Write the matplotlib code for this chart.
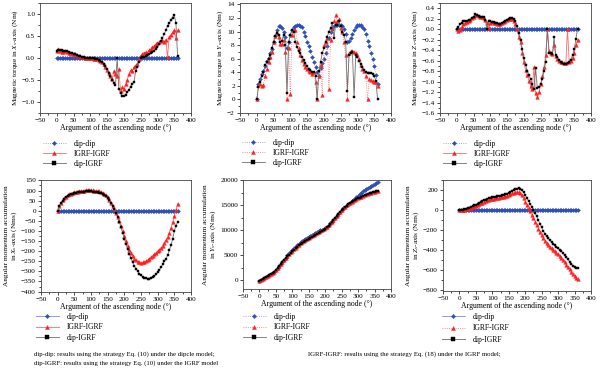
import numpy as np
import matplotlib
matplotlib.use("Agg")
import matplotlib.pyplot as plt
from matplotlib.ticker import MultipleLocator, AutoMinorLocator

plt.rcParams["font.family"] = ["Liberation Serif", "DejaVu Serif"]
plt.rcParams["mathtext.fontset"] = "custom"
plt.rcParams["mathtext.rm"] = "Liberation Serif"
plt.rcParams["mathtext.it"] = "Liberation Serif:italic"

# =========================
# Data
# =========================
# argument of the ascending node, degrees
node_deg = np.arange(0, 361, 5)

zero_series = [0.0] * 73

# --- magnetic torque, X axis (Nm)
tx_igrf_igrf = [0.17, 0.20, 0.17, 0.14, 0.13, 0.15, 0.13, 0.12, 0.11, 0.10, 0.09, 0.08,
                0.06, 0.05, 0.04, 0.03, 0.02, 0.01, 0.00, 0.00, -0.01, -0.01, -0.02, -0.02,
                -0.03, -0.05, -0.07, -0.10, -0.14, -0.20, -0.27, -0.35, -0.40, -0.47, -0.30, -0.36,
                -0.42, -0.25, -0.75, -0.67, -0.70, -0.60, -0.50, -0.36, -0.28, -0.30, -0.21, -0.17,
                -0.13, -0.03, 0.05, 0.10, 0.12, 0.13, 0.10, 0.18, 0.20, 0.24, 0.27, 0.31,
                0.34, 0.37, 0.39, 0.41, 0.36, 0.42, 0.02, 0.48, 0.53, 0.58, 0.63, 0.45,
                0.63]
tx_dip_igrf = [0.15, 0.18, 0.18, 0.18, 0.17, 0.16, 0.15, 0.13, 0.12, 0.11, 0.10, 0.08,
               0.07, 0.05, 0.04, 0.03, 0.02, 0.01, 0.00, 0.00, 0.00, -0.01, -0.01, -0.02,
               -0.03, -0.04, -0.06, -0.09, -0.13, -0.18, -0.25, -0.33, -0.42, -0.50, -0.57, -0.62,
               0.00, -0.70, -0.80, -0.86, -0.87, -0.83, -0.78, -0.72, -0.65, -0.60, -0.55, -0.30,
               -0.20, -0.08, 0.00, 0.02, 0.03, 0.05, 0.07, 0.09, 0.12, 0.14, 0.17, 0.21,
               0.25, 0.31, 0.38, 0.46, 0.54, 0.63, 0.72, 0.79, 0.86, 0.92, 0.98, 0.80,
               0.05]

# --- magnetic torque, Y axis (Nm)
ty_dip_dip = [0.0, 2.2, 3.0, 3.7, 4.2, 4.9, 5.6, 6.1, 6.8, 7.4, 8.4, 9.3,
              10.2, 10.8, 10.8, 10.5, 9.9, 9.2, 7.6, 8.5, 9.5, 10.2, 10.6, 10.8,
              10.9, 10.9, 10.8, 10.6, 10.0, 9.3, 8.5, 7.9, 7.1, 6.3, 5.5, 4.8,
              4.0, 3.4, 4.7, 5.4, 6.0, 6.8, 7.9, 9.0, 9.9, 10.4, 10.8, 10.9,
              11.0, 11.0, 10.9, 10.8, 10.4, 9.6, 8.4, 8.6, 9.0, 9.6, 10.2, 10.6,
              10.9, 10.9, 10.9, 10.7, 10.3, 9.6, 8.6, 7.8, 6.9, 5.9, 4.9, 3.6,
              2.2]
ty_igrf_igrf = [0.0, 2.1, 2.2, 2.0, 2.1, 3.5, 4.5, 5.5, 6.3, 7.0, 8.5, 9.3,
                9.8, 9.2, 8.1, 8.2, 8.8, 7.0, 0.0, 7.5, 0.8, 9.5, 10.2, 10.2,
                8.5, 7.5, 6.5, 5.8, 5.2, 4.8, 4.5, 4.2, 4.0, 3.8, 4.0, 2.5,
                0.0, 3.5, 5.0, 0.7, 8.0, 8.5, 9.0, 1.5, 8.7, 10.5, 11.5, 12.5,
                11.5, 11.8, 10.5, 10.0, 8.5, 6.5, 0.0, 6.8, 7.1, 7.2, 7.0, 6.8,
                6.5, 6.0, 5.0, 4.5, 4.2, 3.5, 0.0, 3.0, 2.8, 2.7, 2.5, 2.6,
                2.0]
ty_dip_igrf = [0.0, 1.8, 2.5, 3.5, 4.0, 5.0, 5.5, 6.0, 6.5, 7.5, 8.5, 9.3,
               9.8, 9.5, 8.5, 8.6, 9.5, 8.0, 1.0, 8.5, 9.5, 10.2, 10.0, 8.5,
               7.7, 7.2, 6.8, 6.3, 5.8, 5.3, 4.9, 4.5, 4.3, 4.1, 4.0, 3.5,
               0.0, 4.2, 5.5, 6.8, 7.6, 8.5, 9.2, 10.0, 10.5, 11.2, 9.0, 11.0,
               11.0, 11.5, 10.8, 10.0, 9.5, 8.5, 1.3, 6.6, 6.8, 7.0, 0.3, 6.6,
               6.2, 5.7, 5.2, 4.8, 4.3, 4.0, 3.9, 3.9, 3.9, 3.8, 3.5, 2.7,
               0.0]

# --- magnetic torque, Z axis (Nm)
tz_igrf_igrf = [0.00, -0.04, -0.02, 0.04, 0.09, 0.12, 0.14, 0.16, 0.18, 0.21, 0.24, 0.28,
                0.27, 0.25, 0.24, 0.23, 0.22, 0.17, 0.12, 0.02, 0.12, 0.13, 0.12, 0.11,
                0.10, 0.10, 0.10, 0.12, 0.13, 0.15, 0.17, 0.19, 0.20, 0.19, 0.16, 0.10,
                0.00, -0.15, -0.25, -0.45, -0.62, -0.78, -0.88, -0.98, -1.08, -1.15, -0.72, -1.22,
                -1.29, -1.20, -1.05, -0.90, -0.72, -0.50, 0.00, -0.42, -0.45, -0.47, -0.30, -0.52,
                -0.56, -0.60, -0.62, -0.63, -0.64, -0.64, 0.00, -0.62, -0.60, -0.55, -0.45, -0.30,
                -0.20]
tz_dip_igrf = [0.00, 0.05, 0.09, 0.12, 0.15, 0.16, 0.16, 0.17, 0.18, 0.21, 0.24, 0.29,
               0.28, 0.26, 0.24, 0.24, 0.23, 0.18, 0.00, 0.15, 0.15, 0.14, 0.13, 0.12,
               0.11, 0.10, 0.10, 0.12, 0.13, 0.15, 0.17, 0.20, 0.21, 0.21, 0.19, 0.15,
               0.06, -0.07, -0.20, -0.38, -0.55, -0.68, -0.80, -0.88, -0.95, -1.05, -1.15, -0.75,
               -1.12, -1.10, -1.05, -0.95, -0.80, -0.62, 0.00, -0.45, -0.46, -0.48, -0.15, -0.50,
               -0.54, -0.58, -0.62, -0.64, -0.66, -0.66, -0.65, -0.63, -0.58, -0.50, -0.38, -0.18,
               0.00]

# --- angular momentum accumulation, X axis (Nms)
hx_igrf_igrf = [0, 25, 40, 52, 62, 70, 76, 81, 85, 88, 91, 93,
                95, 97, 98, 99, 100, 101, 102, 102, 102, 101, 100, 99,
                98, 96, 94, 90, 85, 78, 68, 55, 40, 24, 8, -10,
                -30, -52, -77, -100, -125, -150, -172, -192, -210, -225, -237, -246,
                -252, -256, -258, -256, -253, -248, -243, -237, -230, -222, -215, -207,
                -200, -192, -183, -173, -160, -145, -128, -110, -85, -57, -25, 5,
                35]
hx_dip_igrf = [0, 22, 37, 49, 59, 67, 73, 78, 82, 85, 88, 90,
               92, 93, 94, 95, 95, 96, 96, 96, 96, 95, 94, 93,
               92, 90, 88, 85, 80, 74, 65, 53, 40, 25, 8, -10,
               -30, -55, -82, -110, -138, -165, -190, -213, -235, -255, -272, -287,
               -300, -311, -320, -327, -332, -335, -336, -336, -334, -330, -323, -315,
               -305, -293, -280, -265, -248, -240, -218, -195, -170, -140, -100, -75,
               -55]

# --- angular momentum accumulation, Y axis (Nms)
hy_dip_dip = [-100, 0, 150, 330, 520, 720, 940, 1180, 1430, 1700, 2000, 2350,
              2750, 3150, 3600, 4050, 4500, 4950, 5350, 5700, 6050, 6400, 6700, 7000,
              7300, 7550, 7800, 8050, 8300, 8500, 8700, 8900, 9100, 9300, 9500, 9700,
              9850, 10000, 10150, 10300, 10500, 10750, 11050, 11400, 11750, 12150, 12550, 12950,
              13350, 13750, 14100, 14450, 14750, 15050, 15300, 15550, 15800, 16050, 16350, 16650,
              16950, 17250, 17550, 17800, 18050, 18300, 18550, 18750, 18950, 19150, 19350, 19500,
              19650]
hy_igrf_igrf = [-100, 0, 150, 330, 520, 720, 940, 1180, 1430, 1700, 2000, 2350,
                2750, 3150, 3580, 4000, 4420, 4850, 5230, 5580, 5920, 6230, 6530, 6830,
                7100, 7350, 7600, 7850, 8080, 8300, 8500, 8700, 8900, 9100, 9300, 9500,
                9700, 9850, 10000, 10200, 10450, 10750, 11050, 11400, 11750, 12150, 12550, 12950,
                13350, 13750, 14100, 14450, 14750, 15000, 15250, 15500, 15700, 15900, 16100, 16300,
                16450, 16600, 16750, 16900, 17050, 17200, 17350, 17450, 17550, 17650, 17750, 17850,
                17950]
hy_dip_igrf = [-100, 0, 150, 330, 520, 720, 940, 1180, 1430, 1700, 2000, 2350,
               2750, 3150, 3550, 3950, 4350, 4750, 5100, 5450, 5800, 6100, 6400, 6700,
               6950, 7200, 7450, 7700, 7900, 8100, 8300, 8500, 8700, 8900, 9100, 9300,
               9500, 9700, 9900, 10100, 10350, 10650, 10950, 11300, 11650, 12050, 12450, 12850,
               13250, 13650, 14000, 14350, 14650, 14950, 15200, 15450, 15650, 15850, 16050, 16250,
               16400, 16550, 16700, 16850, 17000, 17150, 17300, 17400, 17500, 17600, 17700, 17800,
               17850]

# --- angular momentum accumulation, Z axis (Nms)
hz_igrf_igrf = [0, 2, 4, 8, 12, 17, 22, 28, 34, 40, 47, 54,
                62, 70, 78, 86, 93, 100, 105, 110, 114, 118, 121, 124,
                127, 130, 134, 138, 143, 149, 156, 163, 170, 177, 182, 185,
                183, 172, 150, 120, 88, 55, 22, -10, -45, -80, -115, -150,
                -185, -218, -250, -280, -305, -328, -348, -365, -380, -395, -410, -425,
                -442, -460, -480, -500, -522, -545, -568, -592, -615, -637, -658, -675,
                -687]
hz_dip_igrf = [0, 2, 5, 10, 15, 22, 28, 35, 42, 50, 57, 65,
               73, 82, 92, 100, 108, 114, 120, 125, 130, 134, 138, 140,
               143, 146, 150, 155, 160, 167, 175, 185, 195, 205, 213, 218,
               220, 215, 200, 180, 155, 125, 95, 65, 35, 5, -25, -60,
               -100, -137, -170, -205, -237, -260, -282, -300, -318, -335, -350, -365,
               -380, -395, -412, -430, -450, -470, -492, -515, -535, -555, -568, -576,
               -580]

series_labels = ["dip-dip", "IGRF-IGRF", "dip-IGRF"]

caption_left = ["dip-dip: results using the strategy Eq. (10) under the dipcle model;",
                "dip-IGRF: results using the strategy Eq. (10) under the IGRF model"]
caption_right = "IGRF-IGRF: results using the strategy Eq. (18) under the IGRF model;"

# =========================
# Styles
# =========================
BLUE, BLUE_LINE = "#2f4fb8", "#7d92d6"
RED, RED_LINE = "#ff1f1f", "#ff6a6a"
BLACK, BLACK_LINE = "#000000", "#6e6e6e"
FS = 5.2


def draw_panel(ax, series, line_styles, ylim, ystep, ylabel):
    """Ve 3 chuoi dip-dip / IGRF-IGRF / dip-IGRF len mot truc."""
    colors = [(BLUE, BLUE_LINE, "D", 2.0), (RED, RED_LINE, "^", 2.6), (BLACK, BLACK_LINE, "s", 2.0)]
    handles = []
    for y, ls, (c, lc, m, ms) in zip(series, line_styles, colors):
        h, = ax.plot(node_deg, y, color=lc, ls=ls, lw=0.6, marker=m, ms=ms,
                     mfc=c, mec=c, mew=0.3)
        handles.append(h)

    ax.set_xlim(-50, 400)
    ax.set_ylim(*ylim)
    ax.xaxis.set_major_locator(MultipleLocator(50))
    ax.xaxis.set_minor_locator(AutoMinorLocator(2))
    ax.yaxis.set_major_locator(MultipleLocator(ystep))
    ax.yaxis.set_minor_locator(AutoMinorLocator(2))
    ax.tick_params(which="both", direction="out", labelsize=FS, width=0.5, pad=1.5)
    ax.tick_params(which="major", length=2.2)
    ax.tick_params(which="minor", length=1.2)
    for sp in ax.spines.values():
        sp.set_linewidth(0.6)
        sp.set_color("#444444")
    ax.set_xlabel("Argument of the ascending node (°)", fontsize=FS + 0.4, labelpad=0.8)
    ax.set_ylabel(ylabel, fontsize=FS, labelpad=1.5, linespacing=1.1)
    return handles


def add_legend(fig, handles, x_px, y_px, spacing):
    fig.legend(handles, series_labels, loc="upper left",
               bbox_to_anchor=(x_px / 600, 1 - y_px / 368), bbox_transform=fig.transFigure,
               frameon=False, fontsize=FS + 0.3, handlelength=3.0, handletextpad=1.0,
               labelspacing=spacing, borderpad=0, borderaxespad=0, markerscale=1.1)


# =========================
# Figure
# =========================
fig = plt.figure(figsize=(6, 3.68), dpi=100)


def axes_px(left, top, right, bottom):
    return fig.add_axes([left / 600, 1 - bottom / 368, (right - left) / 600, (bottom - top) / 368])


panels = [
    # (box px, series, line styles, ylim, ystep, ylabel, legend pos, spacing)
    ((40, 3, 191, 113), [zero_series, tx_igrf_igrf, tx_dip_igrf], [":", "-", "-"],
     (-1.25, 1.25), 0.5, r"Magnetic torque in $X_s$-axis (Nm)", (43, 140), 0.25),
    ((240, 3, 391, 113), [ty_dip_dip, ty_igrf_igrf, ty_dip_igrf], [":", ":", "-"],
     (-2, 14.2), 2, r"Magnetic torque in $Y_s$-axis (Nm)", (242, 139), 0.25),
    ((440, 3, 591, 113), [zero_series, tz_igrf_igrf, tz_dip_igrf], [":", "-", "-"],
     (-1.6, 0.5), 0.2, r"Magnetic torque in $Z_s$-axis (Nm)", (443, 140), 0.25),
    ((41, 180, 191, 292), [zero_series, hx_igrf_igrf, hx_dip_igrf], ["-", "-", "-"],
     (-402, 152), 50, "Angular momentum accumulation\n" + r"in $X_s$-axis (Nms)", (36, 313), 0.3),
    ((243, 180, 391, 289), [hy_dip_dip, hy_igrf_igrf, hy_dip_igrf], [":", ":", "-"],
     (-1800, 20100), 5000, "Angular momentum accumulation\n" + r"in $Y_s$-axis (Nms)", (243, 313), 0.3),
    ((443, 180, 591, 291), [zero_series, hz_igrf_igrf, hz_dip_igrf], ["-", ":", "-"],
     (-810, 305), 200, "Angular momentum accumulation\n" + r"in $Z_s$-axis (Nms)", (442, 313), 0.45),
]

for box, series, styles, ylim, ystep, ylabel, leg_pos, spacing in panels:
    ax = axes_px(*box)
    handles = draw_panel(ax, series, styles, ylim, ystep, ylabel)
    add_legend(fig, handles, leg_pos[0], leg_pos[1], spacing)

fig.text(34 / 600, 1 - 354 / 368, caption_left[0], fontsize=FS - 0.3, va="center")
fig.text(34 / 600, 1 - 363.5 / 368, caption_left[1], fontsize=FS - 0.3, va="center")
fig.text(308 / 600, 1 - 354 / 368, caption_right, fontsize=FS - 0.3, va="center")

fig.savefig("out.png", dpi=100)
